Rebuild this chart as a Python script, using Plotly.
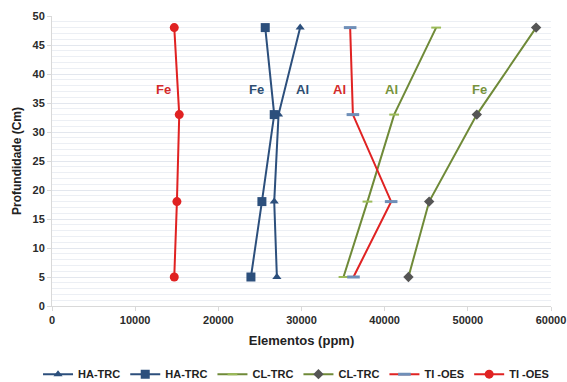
import plotly.graph_objects as go

depth = [48, 33, 18, 5]
ha_al = [29840, 27240, 26720, 27040]
ha_fe = [25640, 26720, 25240, 23920]
cl_al = [46190, 41140, 37930, 35050]
cl_fe = [58210, 51080, 45350, 42860]
ti_al = [35850, 36180, 40780, 36250]
ti_fe = [14700, 15300, 15020, 14700]

labels = [("Fe", 13380, 37.4, "#D42A2A"), ("Fe", 24560, 37.4, "#2E4E72"),
          ("Al", 30100, 37.4, "#2E4E72"), ("Al", 34530, 37.4, "#D42A2A"),
          ("Al", 40800, 37.4, "#77933C"), ("Fe", 51370, 37.4, "#77933C")]

blue = "#2C4F7C"
red = "#E02222"
olive = "#6F8A38"

fig = go.Figure()
fig.add_trace(go.Scatter(x=ha_al, y=depth, name="HA-TRC", mode="lines+markers",
                         line=dict(color=blue, width=2),
                         marker=dict(symbol="triangle-up", size=8, color=blue)))
fig.add_trace(go.Scatter(x=ha_fe, y=depth, name="HA-TRC", mode="lines+markers",
                         line=dict(color=blue, width=2),
                         marker=dict(symbol="square", size=9, color=blue)))
fig.add_trace(go.Scatter(x=cl_al, y=depth, name="CL-TRC", mode="lines+markers",
                         line=dict(color=olive, width=2),
                         marker=dict(symbol="line-ew", size=7, color="#9BBB59",
                                     line=dict(color="#9BBB59", width=2))))
fig.add_trace(go.Scatter(x=cl_fe, y=depth, name="CL-TRC", mode="lines+markers",
                         line=dict(color=olive, width=2),
                         marker=dict(symbol="diamond", size=8, color="#555555")))
fig.add_trace(go.Scatter(x=ti_al, y=depth, name="TI -OES", mode="lines+markers",
                         line=dict(color=red, width=2),
                         marker=dict(symbol="line-ew", size=9, color="#6F8FB8",
                                     line=dict(color="#6F8FB8", width=3))))
fig.add_trace(go.Scatter(x=ti_fe, y=depth, name="TI -OES", mode="lines+markers",
                         line=dict(color=red, width=2),
                         marker=dict(symbol="circle", size=9, color=red)))

for t, x, y, c in labels:
    fig.add_annotation(x=x, y=y, text="<b>%s</b>" % t, showarrow=False,
                       font=dict(color=c, size=13, family="Liberation Sans"))

tickfont = dict(size=11, color="#2A2A2A", family="Liberation Sans", weight="bold")

fig.update_layout(
    width=567, height=382,
    margin=dict(l=52, r=16, t=16, b=76, autoexpand=False),
    paper_bgcolor="white", plot_bgcolor="white",
    font=dict(family="Liberation Sans", size=11, color="#333333"),
    showlegend=True,
    legend=dict(orientation="h", x=-0.028, xanchor="left", y=-0.235, yanchor="middle",
                font=dict(size=11, color="#222222", weight="bold"), itemwidth=30,
                tracegroupgap=0, bgcolor="rgba(0,0,0,0)"),
    xaxis=dict(range=[0, 60000], dtick=10000, showgrid=False, zeroline=False,
               showline=True, linecolor="#D9D9D9", ticks="outside", ticklen=4,
               tickcolor="#D9D9D9", tickfont=tickfont, tickformat="d",
               title=dict(text="<b>Elementos (ppm)</b>", font=dict(size=13, color="#222222"),
                          standoff=10)),
    yaxis=dict(range=[0, 50], dtick=5, showgrid=True, gridcolor="#E3E7EE",
               zeroline=False, showline=True, linecolor="#D9D9D9",
               ticks="outside", ticklen=4, tickcolor="#D9D9D9",
               minor=dict(dtick=1, showgrid=True, gridcolor="#ECEFF4"),
               tickfont=tickfont,
               title=dict(text="<b>Profundidade (Cm)</b>", font=dict(size=12, color="#222222"),
                          standoff=8)),
)

fig.write_html("out.html")
